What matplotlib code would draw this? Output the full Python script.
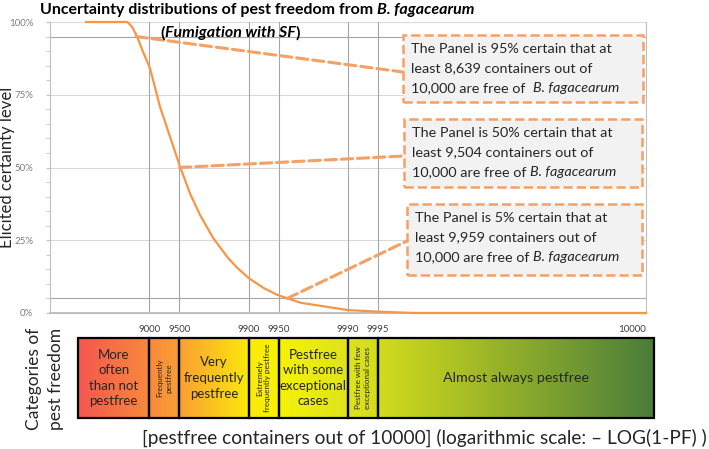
import numpy as np
import matplotlib
matplotlib.use('Agg')
import matplotlib.pyplot as plt
from matplotlib.patches import Rectangle, ConnectionPatch
from matplotlib.colors import LinearSegmentedColormap

# certainty curve, x in -LOG10(1-PF), y in %
curve_x = [0.364, 0.78, 0.825, 0.87, 0.943, 1.007, 1.107, 1.208, 1.309, 1.409, 1.51,
           1.644, 1.795, 1.886, 2.0, 2.15, 2.29, 2.525, 3.0, 3.313, 3.667, 6.0]
curve_y = [100, 100, 98.4, 95.5, 89.2, 84.1, 70.9, 60.6, 50.3, 41.1, 33.7,
           25.7, 18.8, 15.5, 12.0, 8.6, 6.2, 3.5, 1.0, 0.45, 0.0, 0.0]

# category boundaries (pestfree containers out of 10000)
bounds = [9000, 9500, 9900, 9950, 9990, 9995]
bound_labels = ['9000', '9500', '9900', '9950', '9990', '9995']
categories = ['More\noften\nthan not\npestfree', 'Frequently\npestfree',
              'Very\nfrequently\npestfree', 'Extremely\nfrequently pestfree',
              'Pestfree\nwith some\nexceptional\ncases', 'Pestfree with few\nexceptional cases',
              'Almost always pestfree']

# elicited quantiles
levels = [95, 50, 5]
containers = [8639, 9504, 9959]

ORANGE = '#F79646'
DASH = '#F5A064'
FONT = ['Lato', 'DejaVu Sans']

W, H = 709, 449
def fx(px):
    return px / W
def fy(py):
    return 1 - py / H

def tolog(n):
    return -np.log10(1 - np.asarray(n) / 10000)

fig = plt.figure(figsize=(W / 100, H / 100), dpi=100)
renderer = fig.canvas.get_renderer()

ax = fig.add_axes([fx(50), fy(313), fx(646) - fx(50), fy(22) - fy(313)])
ax.set_xlim(0, 6)
ax.set_ylim(0, 100)
ax.spines['top'].set_visible(False)
ax.spines['right'].set_color('#bfbfbf')
ax.spines['left'].set_color('#bfbfbf')
ax.spines['bottom'].set_color('#bfbfbf')
ax.spines['bottom'].set_linewidth(1.5)
ax.set_xticks([])
ax.set_yticks([0, 25, 50, 75, 100])
ax.set_yticklabels(['0%', '25%', '50%', '75%', '100%'], family=FONT)
ax.set_yticks(range(0, 101, 5), minor=True)
ax.tick_params(axis='y', which='both', direction='out', length=3, color='#bfbfbf',
               labelsize=7, labelcolor='#7f7f7f', pad=9)

for v in [25, 50, 75, 100]:
    ax.axhline(v, color='#d9d9d9', lw=0.8, zorder=1)
for v in levels[::2]:
    ax.axhline(v, color='#a6a6a6', lw=0.8, zorder=1)
bx = tolog(bounds)
for v in bx:
    ax.axvline(v, color='#a6a6a6', lw=0.8, zorder=1)

ax.plot(curve_x, curve_y, color=ORANGE, lw=1.6, zorder=3, clip_on=False)

fig.text(fx(7), fy(167), 'Elicited certainty level', rotation=90, ha='center', va='center',
         family=FONT, fontsize=12, color='#262626')

for v, lab in zip(bx, bound_labels):
    ax.text(v, -5.6, lab, ha='center', va='center', fontsize=7, color='#404040', family=FONT)
ax.text(6, -5.6, '10000', ha='right', va='center', fontsize=7, color='#404040', family=FONT)

# category bar
bar_left, bar_right = 28 / 99.33, 604 / 99.33
bax = fig.add_axes([fx(78), fy(418), fx(654) - fx(78), fy(338) - fy(418)])
bax.set_xlim(bar_left, bar_right)
bax.set_ylim(0, 1)
bax.axis('off')
stops = [(bar_left, '#F5574F'), (1.0, '#F88A3C'), (1.301, '#FAA032'), (2.0, '#FBEA0A'),
         (2.301, '#F6F206'), (3.0, '#DEE31C'), (3.301, '#D2DC1C'), (bar_right, '#4B7D3A')]
cmap = LinearSegmentedColormap.from_list(
    'pf', [((p - bar_left) / (bar_right - bar_left), c) for p, c in stops])
grad = np.linspace(0, 1, 600).reshape(1, -1)
bax.imshow(grad, cmap=cmap, aspect='auto', extent=[bar_left, bar_right, 0, 1], zorder=1)
edges = [bar_left] + list(bx) + [bar_right]
for i, lab in enumerate(categories):
    a, b = edges[i], edges[i + 1]
    bax.add_patch(Rectangle((a, 0), b - a, 1, fill=False, ec='black', lw=1.6, zorder=2,
                            clip_on=False))
    rot = 90 if i in (1, 3, 5) else 0
    fs = 5.8 if rot else 9.5
    if i == 6:
        fs = 10.3
    bax.text((a + b) / 2, 0.5, lab, ha='center', va='center', rotation=rot, fontsize=fs,
             family=FONT, color='#262626', linespacing=1.35 if not rot else 1.2)

fig.text(fx(45), fy(379), 'Categories of\npest freedom', rotation=90, ha='center', va='center',
         fontsize=12.5, family=FONT, color='#262626', linespacing=1.5)
fig.text(fx(424), fy(438), '[pestfree containers out of 10000] (logarithmic scale: \u2013 LOG(1-PF) )',
         ha='center', va='center', fontsize=13.8, family=FONT, color='#262626')


def width(s, **kw):
    t = fig.text(0, 0, s, **kw)
    w = t.get_window_extent(renderer).width
    t.remove()
    return w


def rich(x, y, parts, center=False, **kw):
    # parts: list of (text, style, weight); x, y in pixels from top-left
    sp = width('n n', **kw) - width('nn', **kw)
    if center:
        total = sum(width(s.strip(' '), style=st, weight=wt, **kw) for s, st, wt in parts)
        x -= total / 2
    for s, st, wt in parts:
        core = s.strip(' ')
        lead = len(s) - len(s.lstrip(' '))
        trail = len(s) - len(s.rstrip(' '))
        x += lead * sp
        t = fig.text(fx(x), fy(y), core, style=st, weight=wt, va='center', ha='left', **kw)
        x += t.get_window_extent(renderer).width + trail * sp


# title
tkw = dict(fontsize=11.5, family=FONT, color='black')
rich(40, 10, [('Uncertainty distributions of pest freedom from ', 'normal', 'bold'),
              ('B. fagacearum', 'italic', 'bold')], **tkw)
rich(230, 33, [('(', 'normal', 'bold'), ('Fumigation with SF', 'italic', 'bold'),
               (')', 'normal', 'bold')], center=True, **tkw)

# callouts
boxes = [(403, 35, 643, 102), (404, 119, 642, 187), (407, 204, 642, 275)]
lead_y = [72, 156, 241]
gap = ['  ', ' ', ' ']
for lvl, n, (l, t, r, b), ly, g in zip(levels, containers, boxes, lead_y, gap):
    fig.add_artist(Rectangle((fx(l), fy(b)), fx(r) - fx(l), fy(t) - fy(b),
                             transform=fig.transFigure, fc='#F2F2F2', ec=DASH, ls='--', lw=1.8))
    fig.add_artist(ConnectionPatch(xyA=(tolog(n), lvl), coordsA=ax.transData,
                                   xyB=(fx(l), fy(ly)), coordsB=fig.transFigure,
                                   color=DASH, ls='--', lw=2.2))
    kw = dict(fontsize=10.4, family=FONT, color='#262626')
    rich(l + 8, t + 14, [('The Panel is %d%% certain that at' % lvl, 'normal', 'normal')], **kw)
    rich(l + 8, t + 33.5, [('least {:,} containers out of'.format(n), 'normal', 'normal')], **kw)
    rich(l + 8, t + 53, [('10,000 are free of' + g, 'normal', 'normal'),
                         ('B. fagacearum', 'italic', 'normal')], **kw)

fig.savefig('out.png', dpi=100)
